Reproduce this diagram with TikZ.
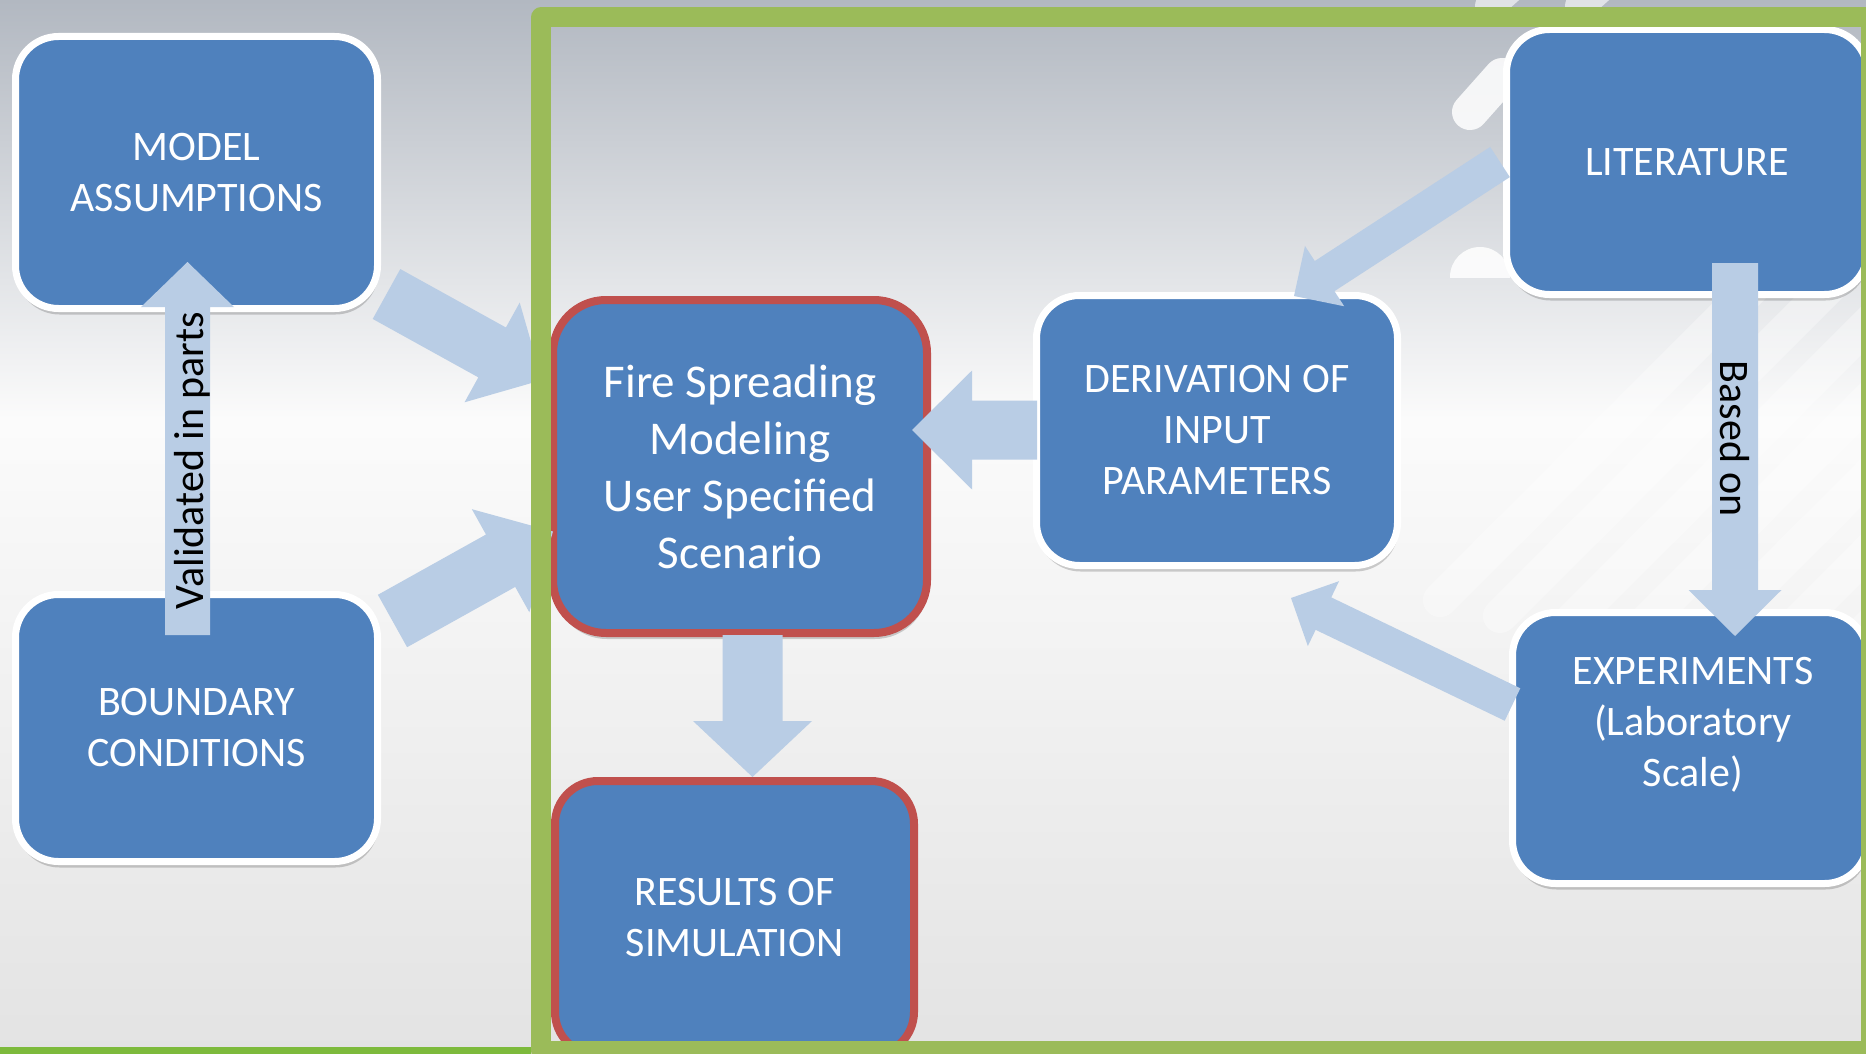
\documentclass[tikz,border=0pt]{standalone}
\usepackage{fontspec}
\setmainfont{Carlito}
\usetikzlibrary{calc,shadows}
\definecolor{boxblue}{RGB}{79,129,189}
\definecolor{arrowblue}{RGB}{185,205,229}
\definecolor{boxred}{RGB}{192,80,77}
\definecolor{framegreen}{RGB}{155,187,89}
\definecolor{linegreen}{RGB}{125,186,60}
\definecolor{bgtop}{RGB}{178,184,193}
\definecolor{bgbot}{RGB}{227,227,227}
\newcommand{\bxfont}{\fontsize{42}{51}\selectfont}
\newcommand{\fsfont}{\fontsize{47}{57}\selectfont}
% #1 tail, #2 tip, #3 half shaft width, #4 half head width, #5 head length
\newcommand{\blockarrow}[5]{%
  \path ($(#2)!#5!(#1)$) coordinate (tmpbase);
  \fill[arrowblue] ($(#1)!#3!90:(#2)$) -- ($(tmpbase)!#3!-90:(#1)$) -- ($(tmpbase)!#4!-90:(#1)$) -- (#2) -- ($(tmpbase)!#4!90:(#1)$) -- ($(tmpbase)!#3!90:(#1)$) -- ($(#1)!#3!-90:(#2)$) -- cycle;}
\tikzset{
  box/.style={rectangle, rounded corners=43pt, fill=boxblue, draw=white, line width=7pt,
    text=white, font=\bxfont, align=center, inner sep=0pt,
    drop shadow={shadow xshift=1pt, shadow yshift=-6pt, fill=black, opacity=0.18}},
  redbox/.style={box, draw=boxred, line width=8pt},
  lbl/.style={text=black, font=\bxfont, inner sep=0pt},
  txt/.style={text=white, font=\bxfont, align=center, inner sep=0pt},
  stripe/.style={white, line cap=round, line width=34pt, opacity=0.35}
}
\begin{document}
\begin{tikzpicture}[x=1pt, y=-1pt]
\useasboundingbox (0,0) rectangle (1866,1054);
\clip (0,0) rectangle (1866,1054);
% background
\fill[top color=bgtop, bottom color=white!97!gray] (0,0) rectangle (1866,420);
\fill[top color=white!97!gray, bottom color=bgbot] (0,420) rectangle (1866,1054);
% watermark
\begin{scope}
  \clip (1380,0) rectangle (1866,760);
  \foreach \s in {0,...,7} {
    \draw[stripe] ($(1440,600)+(\s*60,\s*16)$) -- ++(360,-360);
  }
  \draw[white, line cap=round, line width=36pt, opacity=0.85] (1470,112) -- (1502,76);
  \draw[white, line cap=round, line width=30pt, opacity=0.6] (1490,6) -- (1530,-30);
  \draw[white, line cap=round, line width=30pt, opacity=0.6] (1580,6) -- (1620,-30);
\end{scope}
\begin{scope}
  \clip (1446,240) rectangle (1520,277);
  \fill[white, opacity=0.85] (1480,277) circle (30pt);
\end{scope}
% thin green line bottom left
\fill[linegreen] (0,1047) rectangle (531,1054);
% boxes
\node[box, minimum width=362pt, minimum height=272pt] (model) at (196.5,172.5) {MODEL\\ASSUMPTIONS};
\node[box, minimum width=362pt, minimum height=267pt] (boundary) at (196.5,728) {BOUNDARY\\CONDITIONS};
\node[redbox, font=\fsfont, minimum width=374pt, minimum height=333pt, rounded corners=53pt] (fire) at (740,466.5) {Fire Spreading\\Modeling\\User Specified\\Scenario};
\node[redbox, minimum width=359pt, minimum height=274pt] (results) at (734.5,918) {RESULTS OF\\SIMULATION};
\node[box, minimum width=361pt, minimum height=270pt] (deriv) at (1217,430.5) {DERIVATION OF\\INPUT\\PARAMETERS};
\node[box, minimum width=361pt, minimum height=265pt] (lit) at (1687,162) {LITERATURE};
\node[box, minimum width=355pt, minimum height=271pt] (exp) at (1690,748) {};
\node[txt] (exptext) at (1693,725) {EXPERIMENTS\\(Laboratory\\Scale)};
% arrow end points
\coordinate (aTail) at (386.5,294);   \coordinate (aTip) at (542,380);
\coordinate (bTail) at (392.5,621);   \coordinate (bTip) at (553,531.5);
\coordinate (cTail) at (1037,430);    \coordinate (cTip) at (912,430);
\coordinate (dTail) at (1500,162);    \coordinate (dTip) at (1294,296);
\coordinate (eTail) at (1512.5,704.5);\coordinate (eTip) at (1291,598);
\coordinate (fTail) at (752.5,635);   \coordinate (fTip) at (752.5,777);
\coordinate (gTail) at (187.5,635);   \coordinate (gTip) at (187.5,262);
\coordinate (hTail) at (1735,263);    \coordinate (hTip) at (1735,636);
% block arrows
\blockarrow{aTail}{aTip}{28.5pt}{57pt}{57pt}
\blockarrow{bTail}{bTip}{30pt}{59pt}{60pt}
\blockarrow{cTail}{cTip}{29.5pt}{59.5pt}{60pt}
\blockarrow{dTail}{dTip}{18pt}{36pt}{36.5pt}
\blockarrow{eTail}{eTip}{18pt}{36pt}{36pt}
\blockarrow{fTail}{fTip}{30pt}{59.5pt}{56pt}
\blockarrow{gTail}{gTip}{22.5pt}{46.5pt}{45pt}
\blockarrow{hTail}{hTip}{23pt}{46.5pt}{46pt}
% arrow labels
\node[lbl, rotate=90, anchor=base] (vlab) at (203,460.5) {Validated in parts};
\node[lbl, rotate=-90, anchor=base] (blab) at (1720,439) {Based on};
% green frame
\draw[framegreen, line width=20pt, line join=round] (541,17.5) rectangle (1871,1051);
\end{tikzpicture}
\end{document}
